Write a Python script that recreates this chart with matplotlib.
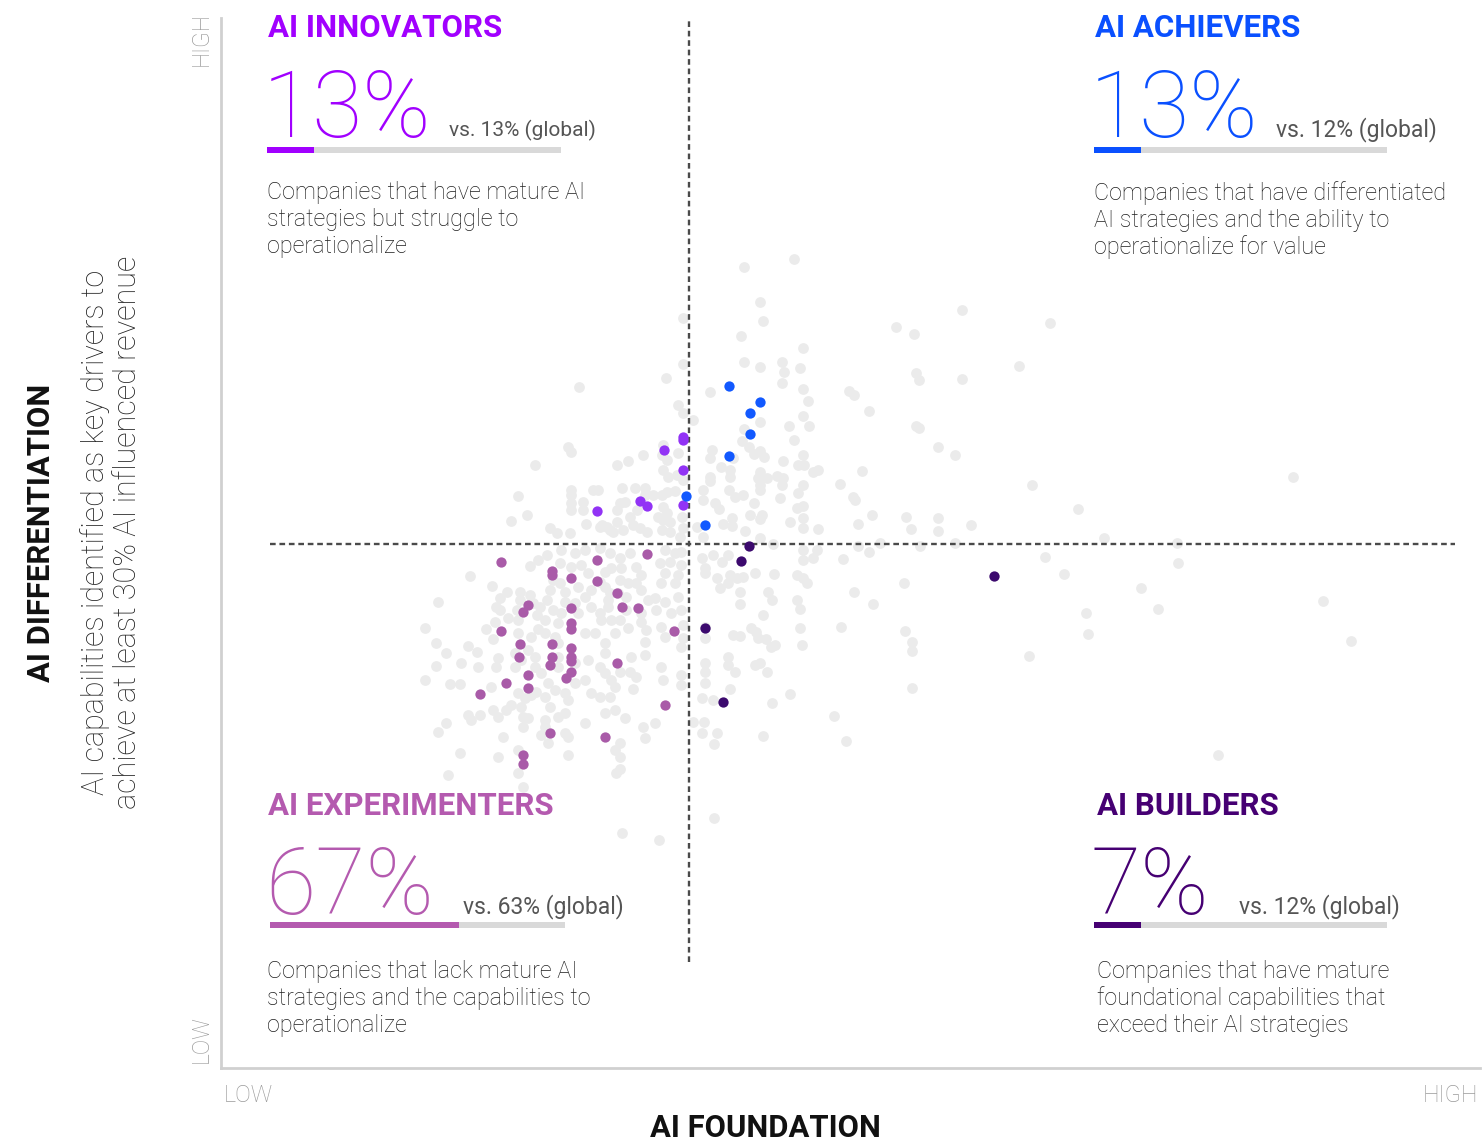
import matplotlib
matplotlib.use("Agg")
import matplotlib.pyplot as plt
from matplotlib.patches import Rectangle

plt.rcParams['font.family'] = ['Roboto', 'DejaVu Sans']

W, H = 1484, 1142

# ---------------- data (score units: foundation x, differentiation y) -------------
x_threshold = 46.9
y_threshold = 52.6

grey_points = [
    (57.4,81.1),(52.4,80.3),(54.0,76.8),(54.3,74.9),(52.1,73.4),(58.3,72.2),(46.3,75.2),(67.6,74.3),
    (52.4,70.8),(54.0,70.3),(56.2,70.8),(56.4,69.8),(58.0,70.2),(56.2,68.7),(46.3,70.6),(44.6,69.2),
    (35.9,68.3),(49.0,67.8),(58.3,68.1),(62.9,67.9),(63.4,67.5),(58.8,66.9),(64.9,65.9),(45.8,66.5),
    (46.3,65.7),(47.3,65.0),(54.0,64.8),(56.9,64.4),(58.3,65.4),(58.9,64.4),(52.4,64.1),(57.4,63.0),
    (52.2,62.9),(52.9,62.3),(54.0,61.9),(53.4,61.6),(54.4,61.3),(49.2,62.0),(49.0,61.2),(51.3,61.2),
    (56.3,60.9),(58.3,61.5),(57.8,60.5),(58.4,60.5),(59.3,59.8),(59.8,60.0),(64.2,59.9),(50.1,60.3),
    (51.0,60.0),(49.0,59.3),(49.0,58.9),(51.0,59.3),(54.0,59.8),(53.8,59.2),(54.7,59.2),(55.7,59.4),
    (56.3,59.2),(56.2,58.5),(58.3,58.5),(62.0,58.6),(54.0,58.5),(54.0,58.0),(48.3,58.0),(48.3,57.0),
    (50.9,58.0),(51.5,57.3),(52.3,57.5),(53.4,56.7),(56.0,57.2),(57.8,57.7),(57.7,56.2),(58.3,56.4),
    (63.3,57.3),(63.5,57.0),(49.5,56.7),(49.9,56.1),(53.0,55.5),(54.2,55.5),(54.0,55.1),(51.2,55.2),
    (51.2,54.4),(50.3,54.6),(57.0,54.8),(58.3,55.2),(58.3,54.2),(59.8,54.1),(63.8,54.6),(65.2,55.5),
    (52.5,53.9),(54.0,53.2),(66.0,52.7),(55.3,52.6),(47.7,54.3),(48.3,53.3),
    (74.2,76.0),(69.4,73.6),(83.0,74.7),(79.9,70.4),(69.6,69.7),(69.9,69.0),(74.2,69.1),(69.6,64.4),
    (69.9,64.2),(71.8,62.3),(73.5,61.5),(81.2,58.5),(107.3,59.3),(85.8,56.1),(68.6,55.3),(71.8,55.2),
    (69.1,54.1),(71.8,53.9),(75.1,54.5),(88.4,53.2),(73.5,52.7),(70.0,52.4),(63.8,52.4),(95.7,52.7),
    (64.9,51.8),(82.5,51.3),(84.4,49.6),(95.8,50.7),(68.4,48.7),(63.4,47.8),(65.3,46.6),(92.1,48.2),
    (110.3,46.9),(86.6,45.7),(93.8,46.1),(68.5,43.9),(69.2,42.8),(69.2,41.9),(86.8,43.6),(80.9,41.4),
    (113.1,42.9),(99.8,31.5),(69.2,38.2),(61.4,35.4),(62.6,32.9),(54.3,33.4),(57.0,37.6),(49.4,25.2),
    (40.2,23.7),(43.9,23.0),(30.3,28.3),
    (48.2,51.2),(49.3,51.5),(50.2,50.8),(50.8,51.5),(48.5,50.2),(48.5,49.7),(49.7,49.2),(51.0,49.5),
    (51.7,49.2),(50.8,48.7),(52.3,49.3),(53.5,49.7),(55.4,49.6),(57.7,49.5),(58.3,49.2),(58.7,48.7),
    (52.0,47.8),(52.0,46.6),(54.8,47.8),(55.2,47.0),(57.7,47.0),(58.0,46.1),(54.3,45.5),(50.0,48.2),
    (62.3,51.1),(59.3,51.2),(59.7,52.0),(58.3,51.0),(58.3,52.0),(48.5,44.3),(48.5,43.2),(51.3,43.5),
    (52.0,43.4),(53.1,44.2),(53.6,43.8),(53.8,43.2),(54.6,43.1),(55.5,42.5),(55.1,42.3),(58.0,44.2),
    (58.2,42.5),(62.1,44.3),(50.8,41.3),(50.8,40.5),(51.5,39.8),(48.5,40.7),(48.5,39.8),(53.5,40.5),
    (54.0,40.7),(54.7,39.8),(48.5,38.7),(51.0,38.1),(48.2,37.2),(49.3,37.0),(55.2,36.7),(47.3,34.8),
    (48.4,34.8),(48.2,33.7),(49.7,33.7),(49.4,32.6),
    (34.8,62.3),(35.1,61.8),(31.5,60.5),(39.7,60.5),(40.8,60.9),(42.3,61.5),(44.3,62.5),(44.2,61.5),
    (45.8,61.7),(44.7,61.0),(44.3,60.0),(44.8,59.3),(45.7,59.5),(46.3,59.0),(35.1,58.0),(35.1,57.5),
    (37.3,58.0),(37.8,58.0),(40.2,58.2),(41.5,58.2),(42.5,58.2),(42.5,57.5),(43.3,57.5),(44.2,57.5),
    (44.7,57.8),(45.5,57.9),(29.8,57.4),(30.7,55.5),(29.1,54.9),(35.1,56.7),(35.1,56.0),(36.3,56.8),
    (36.3,56.0),(40.0,56.7),(39.7,56.0),(40.5,56.8),(41.7,56.0),(41.0,55.3),(44.3,56.3),(44.7,55.7),
    (44.3,55.0),(43.8,55.3),(45.0,54.8),(46.2,55.3),(36.6,54.6),(38.2,54.5),(38.7,54.3),(39.3,53.8),
    (39.7,54.8),(41.3,54.5),(42.0,54.2),(42.7,53.8),(44.2,54.0),(45.0,53.8),(46.0,53.3),(33.0,54.2),
    (33.7,53.7),(35.0,53.7),(39.0,54.0),(40.3,54.0),(38.0,54.3),(46.3,54.2),
    (25.0,49.4),(21.8,46.8),(27.2,48.4),(28.7,47.8),(28.0,47.2),(27.6,46.3),(31.0,50.4),(31.8,51.0),
    (30.0,47.8),(30.0,47.0),(31.0,47.5),(29.7,46.0),(31.3,46.7),(32.0,46.3),(31.7,45.5),(32.7,47.0),
    (33.0,48.0),(33.3,49.0),(32.7,51.5),(34.1,52.0),(35.5,51.7),(36.5,52.0),(38.0,52.2),(39.0,51.7),
    (34.0,50.7),(35.1,50.3),(36.1,50.5),(36.8,49.7),(38.5,49.8),(39.1,50.2),(34.0,48.7),(34.5,47.8),
    (35.8,48.3),(36.5,47.3),(37.1,48.0),(38.5,48.3),(39.0,47.7),(33.3,46.0),(34.1,45.7),(35.5,46.7),
    (35.8,45.7),(37.1,46.3),(38.0,45.7),(38.8,46.3),(40.0,51.2),(40.0,49.0),
    (41.0,51.7),(44.5,52.0),(45.5,51.7),(46.1,51.8),(40.1,50.2),(41.6,50.3),(42.1,49.5),(44.0,50.7),
    (45.0,50.8),(46.1,50.5),(44.5,49.7),(45.8,49.5),(44.1,48.7),(45.5,48.7),(40.8,48.7),(41.6,48.7),
    (42.1,48.0),(38.8,47.0),(39.8,47.7),(40.6,47.3),(42.8,47.0),(43.5,47.2),(44.5,46.8),(45.8,47.3),
    (43.6,46.0),(45.1,45.7),(46.1,46.0),(42.1,45.7),(40.6,46.0),(38.0,48.8),
    (20.5,44.2),(21.6,42.7),(22.6,41.7),(20.5,39.0),(21.6,40.4),(23.0,38.6),(24.0,38.6),(24.1,40.7),
    (24.8,42.4),(25.7,41.8),(25.8,40.3),(26.6,44.1),(27.1,38.3),(27.8,41.2),(27.6,40.3),(27.3,43.1),
    (24.8,35.5),(25.1,35.0),(26.0,35.5),(27.3,36.0),(27.8,35.3),(28.6,36.0),(29.1,36.5),(22.6,34.7),
    (21.8,33.8),(28.3,33.3),(24.0,31.7),(22.8,29.5),(27.8,31.3),(29.8,32.0),(29.8,29.7),(30.1,36.3),
    (30.3,35.3),(30.3,34.3),(30.8,35.2),(29.8,37.7),(30.5,37.2),(31.1,37.5),(31.6,37.8),(29.5,40.3),
    (30.1,41.0),(29.5,41.7),(30.8,42.0),(31.5,41.3),(31.5,40.3),(29.8,43.7),(31.1,43.3),(31.8,44.1),
    (28.8,45.2),(29.8,45.0),(32.5,43.7),(33.5,43.3),(33.8,42.7),(32.1,39.7),(32.8,38.7),(33.5,38.0),
    (32.5,37.3),(33.0,36.3),(33.8,40.3),(33.8,41.3),(35.5,40.7),(34.5,37.7),(34.8,37.0),(34.5,35.7),
    (33.8,35.3),(32.5,35.0),(32.5,34.3),(32.1,33.5),(32.8,32.7),(34.8,33.3),(34.8,31.5),(35.5,38.7),
    (36.5,39.0),(37.1,37.7),(36.8,41.0),(38.0,40.3),(38.5,39.7),(39.1,39.0),(36.5,43.7),(37.5,43.7),
    (38.5,42.7),(38.5,41.7),(39.1,45.0),(39.5,43.7),(38.0,37.3),(39.0,37.3),(39.5,36.0),(38.5,35.7),
    (36.5,34.7),(34.5,33.7),(28.0,46.0),(27.5,44.8),(32.5,45.0),(33.8,44.7),(34.5,46.8),(39.5,32.0),
    (39.6,29.7),
    (38.1,45.0),(40.0,45.0),(40.8,44.2),(42.1,44.8),(42.6,44.0),(42.5,42.8),(44.1,44.3),(44.5,43.3),
    (46.3,44.5),(46.3,43.2),(46.1,42.3),(41.1,41.3),(42.5,41.5),(40.0,39.8),(41.0,39.8),(41.6,39.3),
    (44.1,40.3),(44.3,39.0),(46.1,38.5),(46.1,39.5),(39.5,38.3),(41.3,38.1),(40.5,35.2),(42.3,34.3),
    (43.5,34.7),(40.0,32.7),(42.5,33.2),(40.0,31.3),(40.0,30.1),
]

achievers_x = [50.9, 54.0, 53.0, 53.0, 50.9, 46.6, 48.5]
achievers_y = [68.4, 66.8, 65.7, 63.6, 61.4, 57.4, 54.5]

innovators_x = [46.3, 46.3, 44.4, 46.3, 42.0, 42.7, 46.3, 37.7]
innovators_y = [63.3, 63.0, 62.0, 60.0, 56.9, 56.4, 56.5, 55.9]

builders_x = [52.9, 52.1, 48.5, 50.3, 77.4]
builders_y = [52.4, 50.9, 44.2, 36.8, 49.4]

experimenters_x = [28.1, 33.2, 33.2, 35.1, 37.7, 37.7, 42.7, 39.7, 30.8, 30.3, 35.1, 40.2, 41.8,
                   28.1, 35.1, 35.1, 45.4, 30.0, 33.2, 35.1, 29.9, 33.2, 35.1, 35.1, 33.0, 30.8,
                   35.1, 34.6, 39.7, 28.6, 30.8, 26.0, 44.5, 33.0, 38.5, 30.3, 30.3]
experimenters_y = [50.8, 49.9, 49.5, 49.2, 51.0, 48.9, 51.6, 47.7, 46.5, 45.8, 46.2, 46.3, 46.2,
                   43.9, 44.7, 44.1, 43.9, 42.6, 42.6, 42.2, 41.3, 41.3, 41.3, 40.9, 40.5, 39.5,
                   39.8, 39.2, 40.7, 38.7, 38.2, 37.6, 36.5, 33.7, 33.3, 31.5, 30.6]

segments = ["AI INNOVATORS", "AI ACHIEVERS", "AI EXPERIMENTERS", "AI BUILDERS"]
share_pct = [13, 13, 67, 7]
global_pct = [13, 12, 63, 12]
bar_fill = [0.16, 0.16, 0.64, 0.16]
descriptions = [
    ["Companies that have mature AI", "strategies but struggle to", "operationalize"],
    ["Companies that have differentiated", "AI strategies and the ability to", "operationalize for value"],
    ["Companies that lack mature AI", "strategies and the capabilities to", "operationalize"],
    ["Companies that have mature", "foundational capabilities that", "exceed their AI strategies"],
]
text_colors = ["#A100FF", "#0A50FF", "#B45AAF", "#460073"]

# ---------------- figure ----------------
fig = plt.figure(figsize=(W / 100, H / 100), dpi=100)
ax = fig.add_axes([221 / W, 74 / H, 1259 / W, 1050 / H])
ax.set_xlim(0.1, 126.0)
ax.set_ylim(0.2, 105.2)
for s in ("top", "right"):
    ax.spines[s].set_visible(False)
for s in ("left", "bottom"):
    ax.spines[s].set_color("#d0d0d0")
    ax.spines[s].set_linewidth(2)
ax.set_xticks([])
ax.set_yticks([])

gx = [p[0] for p in grey_points]
gy = [p[1] for p in grey_points]
ax.scatter(gx, gy, s=60, color="#ebebeb", linewidths=0, zorder=1)

dash = (0, (2.4, 1.6))
ax.plot([x_threshold, x_threshold], [10.8, 105.2], color="#4a4a4a", lw=1.7, ls=dash, zorder=2)
ax.plot([5.0, 123.5], [y_threshold, y_threshold], color="#4a4a4a", lw=1.7, ls=dash, zorder=2)

ax.scatter(experimenters_x, experimenters_y, s=55, color="#A95BA8", linewidths=0, zorder=3)
ax.scatter(innovators_x, innovators_y, s=55, color="#9233F5", linewidths=0, zorder=3)
ax.scatter(achievers_x, achievers_y, s=55, color="#1259FF", linewidths=0, zorder=3)
ax.scatter(builders_x, builders_y, s=55, color="#3C0A6E", linewidths=0, zorder=3)


def fx(x):
    return x / W


def fy(y):
    return 1 - y / H


def txt(x, y, s, **kw):
    kw.setdefault("va", "baseline")
    kw.setdefault("ha", "left")
    return fig.text(fx(x), fy(y), s, **kw)


# axis labels
txt(201, 39, "HIGH", rotation=90, va="center", ha="center", fontsize=16.5, color="#9a9a9a", fontweight="light")
txt(201, 1039, "LOW", rotation=90, va="center", ha="center", fontsize=16.5, color="#9a9a9a", fontweight="light")
txt(224, 1102, "LOW", fontsize=17, color="#9a9a9a", fontweight="light")
txt(1478, 1102, "HIGH", ha="right", fontsize=17, color="#9a9a9a", fontweight="light")
txt(765, 1137, "AI FOUNDATION", ha="center", fontsize=22.3, fontweight="bold", color="#111111")
txt(41, 533, "AI DIFFERENTIATION", rotation=90, ha="center", va="center", fontsize=22.3,
    fontweight="bold", color="#111111")
txt(111, 532, "AI capabilities identified as key drivers to\nachieve at least 30% AI influenced revenue",
    rotation=90, ha="center", va="center", fontsize=22, fontweight="light", color="#222222",
    linespacing=1.1)

# quadrant blocks: (title x, title baseline, number x, number baseline, vs x, vs size,
#                   bar x0, bar x1, bar y, desc x, desc baseline)
layout = [
    (268, 37, 263, 137, 449, 15.0, 267, 561, 147, 267, 199),
    (1095, 37, 1090, 137, 1276, 16.5, 1094, 1387, 147, 1094, 200),
    (268, 815, 265, 914, 463, 16.5, 270, 565, 922, 267, 978),
    (1097, 815, 1091, 914, 1239, 16.5, 1094, 1387, 922, 1097, 978),
]

for i, seg in enumerate(segments):
    tx, ty, nx, ny, vx, vs, bx0, bx1, by, dx, dy = layout[i]
    c = text_colors[i]
    txt(tx, ty, seg, fontsize=22.5, fontweight="bold", color=c)
    txt(nx, ny, f"{share_pct[i]}%", fontsize=66, fontweight="light", color=c)
    txt(vx, ny - 1, f"vs. {global_pct[i]}% (global)", fontsize=vs, color="#555555")
    fig.add_artist(Rectangle((fx(bx0), fy(by + 6)), fx(bx1 - bx0), 6 / H,
                             transform=fig.transFigure, color="#d9d9d9", lw=0))
    fig.add_artist(Rectangle((fx(bx0), fy(by + 6)), fx((bx1 - bx0) * bar_fill[i]), 6 / H,
                             transform=fig.transFigure, color=c, lw=0))
    for k, line in enumerate(descriptions[i]):
        txt(dx, dy + 27 * k, line, fontsize=16.8, fontweight="light", color="#1e1e1e")

fig.savefig("out.png", dpi=100)
